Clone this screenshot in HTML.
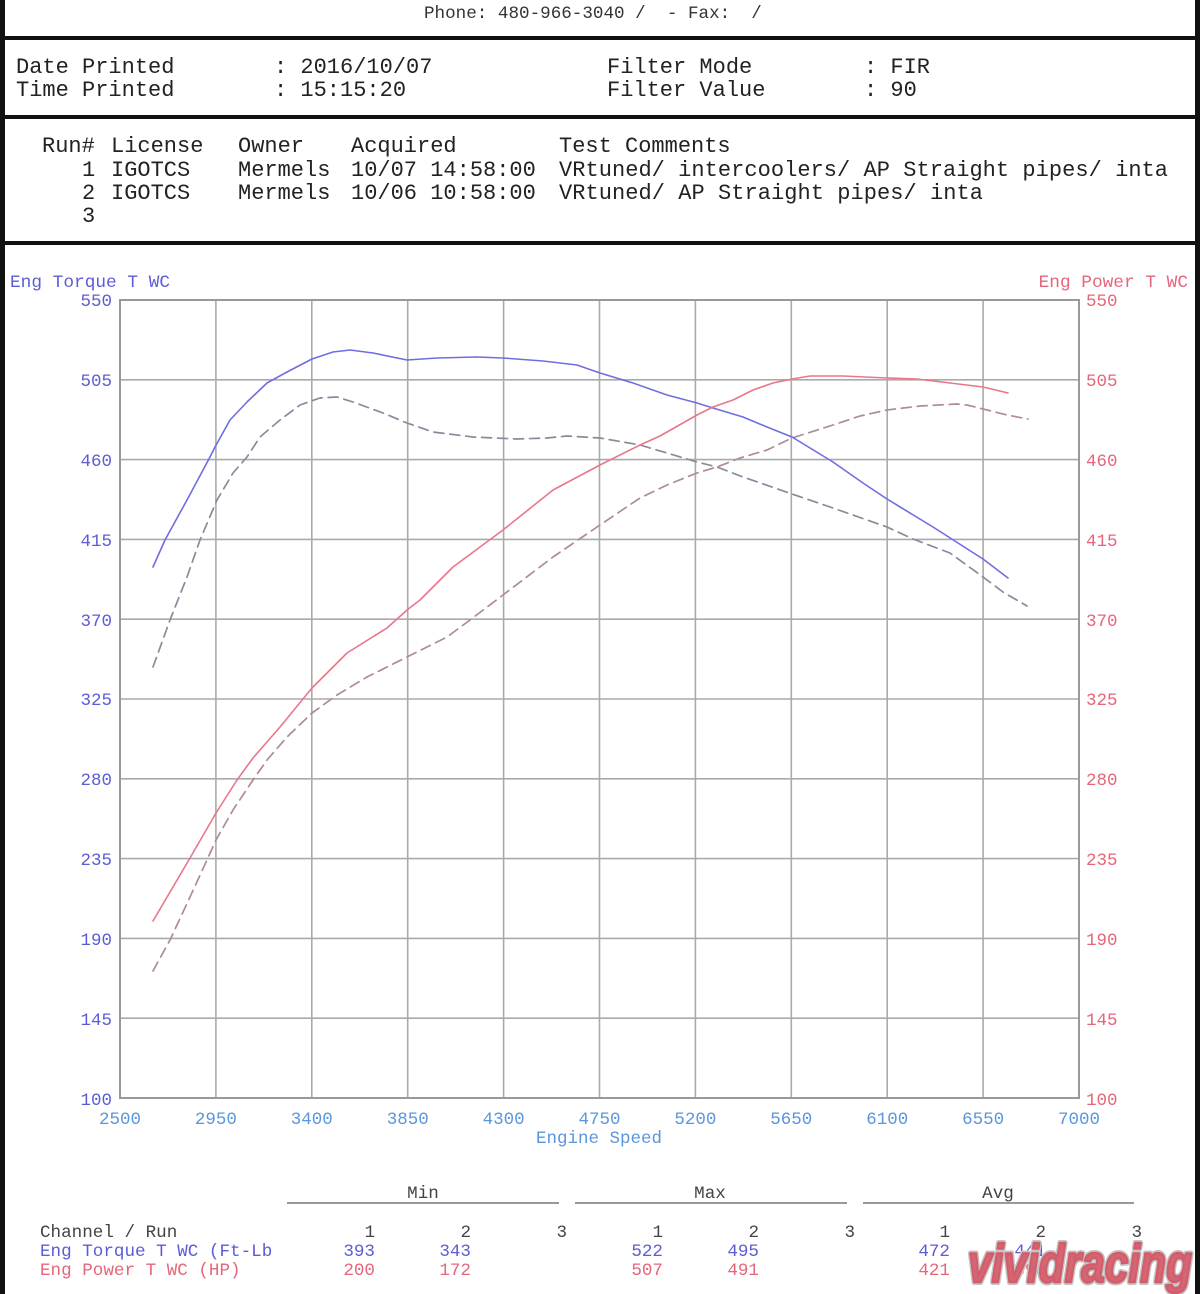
<!DOCTYPE html>
<html><head><meta charset="utf-8"><style>
html,body{margin:0;padding:0;background:#fff;}
svg{display:block;}
.m{font-family:"Liberation Mono","DejaVu Sans Mono",monospace;}
</style></head><body>
<svg width="1200" height="1294" viewBox="0 0 1200 1294" xmlns="http://www.w3.org/2000/svg">
<rect x="0" y="0" width="1200" height="1294" fill="#fff"/>
<!-- frame -->
<rect x="0" y="0" width="5" height="1294" fill="#111"/>
<rect x="1195" y="0" width="5" height="1294" fill="#111"/>
<rect x="0" y="36" width="1200" height="4" fill="#111"/>
<rect x="0" y="115" width="1200" height="4" fill="#111"/>
<rect x="0" y="241" width="1200" height="4" fill="#111"/>

<!-- header -->
<text class="m" x="424" y="18" font-size="17.6" fill="#333" xml:space="preserve">Phone: 480-966-3040 /  - Fax:  /</text>

<g class="m" font-size="22" fill="#222" xml:space="preserve">
<text x="16" y="73">Date Printed</text>
<text x="16" y="96">Time Printed</text>
<text x="274" y="73">: 2016/10/07</text>
<text x="274" y="96">: 15:15:20</text>
<text x="607" y="73">Filter Mode</text>
<text x="607" y="96">Filter Value</text>
<text x="864" y="73">: FIR</text>
<text x="864" y="96">: 90</text>

<text x="42" y="152">Run#</text>
<text x="111" y="152">License</text>
<text x="238" y="152">Owner</text>
<text x="351" y="152">Acquired</text>
<text x="559" y="152">Test Comments</text>
<text x="82" y="176">1</text>
<text x="111" y="176">IGOTCS</text>
<text x="238" y="176">Mermels</text>
<text x="351" y="176">10/07 14:58:00</text>
<text x="559" y="176" textLength="609" lengthAdjust="spacing">VRtuned/ intercoolers/ AP Straight pipes/ inta</text>
<text x="82" y="199">2</text>
<text x="111" y="199">IGOTCS</text>
<text x="238" y="199">Mermels</text>
<text x="351" y="199">10/06 10:58:00</text>
<text x="559" y="199" textLength="424" lengthAdjust="spacing">VRtuned/ AP Straight pipes/ inta</text>
<text x="82" y="222">3</text>
</g>

<!-- grid -->
<g stroke="#aaa" stroke-width="1.6" fill="none">
<line x1="215.9" y1="300" x2="215.9" y2="1098"/>
<line x1="311.8" y1="300" x2="311.8" y2="1098"/>
<line x1="407.7" y1="300" x2="407.7" y2="1098"/>
<line x1="503.6" y1="300" x2="503.6" y2="1098"/>
<line x1="599.5" y1="300" x2="599.5" y2="1098"/>
<line x1="695.4" y1="300" x2="695.4" y2="1098"/>
<line x1="791.3" y1="300" x2="791.3" y2="1098"/>
<line x1="887.2" y1="300" x2="887.2" y2="1098"/>
<line x1="983.1" y1="300" x2="983.1" y2="1098"/>
<line x1="120" y1="379.8" x2="1079" y2="379.8"/>
<line x1="120" y1="459.6" x2="1079" y2="459.6"/>
<line x1="120" y1="539.4" x2="1079" y2="539.4"/>
<line x1="120" y1="619.2" x2="1079" y2="619.2"/>
<line x1="120" y1="699" x2="1079" y2="699"/>
<line x1="120" y1="778.8" x2="1079" y2="778.8"/>
<line x1="120" y1="858.6" x2="1079" y2="858.6"/>
<line x1="120" y1="938.4" x2="1079" y2="938.4"/>
<line x1="120" y1="1018.2" x2="1079" y2="1018.2"/>
</g>
<rect x="120" y="300" width="959" height="798" fill="none" stroke="#999" stroke-width="2"/>

<!-- axis titles -->
<text class="m" x="10" y="287" font-size="17.8" fill="#5c5cd6" xml:space="preserve">Eng Torque T WC</text>
<text class="m" x="1188" y="287" font-size="17.8" fill="#e5667a" text-anchor="end" xml:space="preserve">Eng Power T WC</text>

<!-- left ticks -->
<g class="m" font-size="17.5" fill="#5c5cd6" text-anchor="end">
<text x="112" y="306">550</text>
<text x="112" y="386">505</text>
<text x="112" y="466">460</text>
<text x="112" y="546">415</text>
<text x="112" y="626">370</text>
<text x="112" y="705">325</text>
<text x="112" y="785">280</text>
<text x="112" y="865">235</text>
<text x="112" y="945">190</text>
<text x="112" y="1025">145</text>
<text x="112" y="1105">100</text>
</g>
<!-- right ticks -->
<g class="m" font-size="17.5" fill="#e5667a">
<text x="1086" y="306">550</text>
<text x="1086" y="386">505</text>
<text x="1086" y="466">460</text>
<text x="1086" y="546">415</text>
<text x="1086" y="626">370</text>
<text x="1086" y="705">325</text>
<text x="1086" y="785">280</text>
<text x="1086" y="865">235</text>
<text x="1086" y="945">190</text>
<text x="1086" y="1025">145</text>
<text x="1086" y="1105">100</text>
</g>
<!-- x ticks -->
<g class="m" font-size="17.5" fill="#5a96dc" text-anchor="middle">
<text x="120" y="1124">2500</text>
<text x="215.9" y="1124">2950</text>
<text x="311.8" y="1124">3400</text>
<text x="407.7" y="1124">3850</text>
<text x="503.6" y="1124">4300</text>
<text x="599.5" y="1124">4750</text>
<text x="695.4" y="1124">5200</text>
<text x="791.3" y="1124">5650</text>
<text x="887.2" y="1124">6100</text>
<text x="983.1" y="1124">6550</text>
<text x="1079" y="1124">7000</text>
<text x="599" y="1143">Engine Speed</text>
</g>

<!-- series -->
<g fill="none" stroke-linejoin="round" stroke-linecap="round">
<polyline stroke="#8a8a9c" stroke-width="1.7" stroke-dasharray="10,6" points="153,667 170,620 187,577 200,540 217,500 233,473 247,457 260,437 280,420 300,405 320,398 337,397 353,402 383,413 407,423 433,432 473,437 517,439 547,438 567,436 600,438 640,445 667,453 697,462 717,467 743,477 792,494 833,508 887,527 913,539 950,553 983,577 1003,592 1027,606"/>
<polyline stroke="#ae8c96" stroke-width="1.7" stroke-dasharray="10,6" points="153,971 170,940 190,897 207,860 216,840 233,810 253,780 267,760 287,737 312,713 337,695 367,677 407,657 447,637 470,620 503,595 553,557 600,525 640,498 667,485 697,473 717,467 740,458 767,450 792,438 833,425 860,416 887,410 920,406 957,404 967,405 983,409 1007,415 1028,419"/>
<polyline stroke="#6e6ee2" stroke-width="1.6" points="153,567 165,540 187,500 210,457 215,447 230,420 247,402 267,383 287,372 312,359 333,352 350,350 373,353 407,360 437,358 477,357 503,358 543,361 577,365 600,373 633,383 667,395 697,403 713,408 743,417 767,427 792,437 833,462 863,483 887,499 933,527 983,559 1008,578"/>
<polyline stroke="#e8778a" stroke-width="1.6" points="153,921 190,858 216,813 237,780 253,758 280,727 312,688 347,653 387,628 407,610 420,600 453,567 503,530 553,490 600,465 640,445 660,436 697,415 713,407 733,400 753,390 773,383 792,379 810,376 843,376 887,378 917,379 950,383 983,387 1008,393"/>
</g>

<!-- stats table -->
<g class="m" font-size="17.6" fill="#444" text-anchor="middle">
<text x="423" y="1198">Min</text>
<text x="710" y="1198">Max</text>
<text x="998" y="1198">Avg</text>
</g>
<g stroke="#999" stroke-width="2">
<line x1="287" y1="1203" x2="559" y2="1203"/>
<line x1="575" y1="1203" x2="847" y2="1203"/>
<line x1="863" y1="1203" x2="1134" y2="1203"/>
</g>
<text class="m" x="40" y="1237" font-size="17.6" fill="#444" xml:space="preserve">Channel / Run</text>
<text class="m" x="40" y="1256" font-size="17.6" fill="#5c5cd6" xml:space="preserve">Eng Torque T WC (Ft-Lb</text>
<text class="m" x="40" y="1275" font-size="17.6" fill="#e5667a" xml:space="preserve">Eng Power T WC (HP)</text>
<g class="m" font-size="17.6" text-anchor="end">
<g fill="#444">
<text x="375" y="1237">1</text><text x="471" y="1237">2</text><text x="567" y="1237">3</text>
<text x="663" y="1237">1</text><text x="759" y="1237">2</text><text x="855" y="1237">3</text>
<text x="950" y="1237">1</text><text x="1046" y="1237">2</text><text x="1142" y="1237">3</text>
</g>
<g fill="#5c5cd6">
<text x="375" y="1256">393</text><text x="471" y="1256">343</text>
<text x="663" y="1256">522</text><text x="759" y="1256">495</text>
<text x="950" y="1256">472</text><text x="1046" y="1256">441</text>
</g>
<g fill="#e5667a">
<text x="375" y="1275">200</text><text x="471" y="1275">172</text>
<text x="663" y="1275">507</text><text x="759" y="1275">491</text>
<text x="950" y="1275">421</text><text x="1046" y="1275">398</text>
</g>
</g>

<!-- watermark -->
<text x="968" y="1282" font-family="Liberation Sans, sans-serif" font-weight="bold" font-style="italic" font-size="54" fill="none" stroke="#c4c4c4" stroke-width="6" stroke-linejoin="round" textLength="224" lengthAdjust="spacingAndGlyphs">vividracing</text>
<text x="968" y="1282" font-family="Liberation Sans, sans-serif" font-weight="bold" font-style="italic" font-size="54" fill="#d45c6a" fill-opacity="0.92" stroke="#d45c6a" stroke-width="2.5" stroke-linejoin="round" textLength="224" lengthAdjust="spacingAndGlyphs">vividracing</text>
</svg>
</body></html>
